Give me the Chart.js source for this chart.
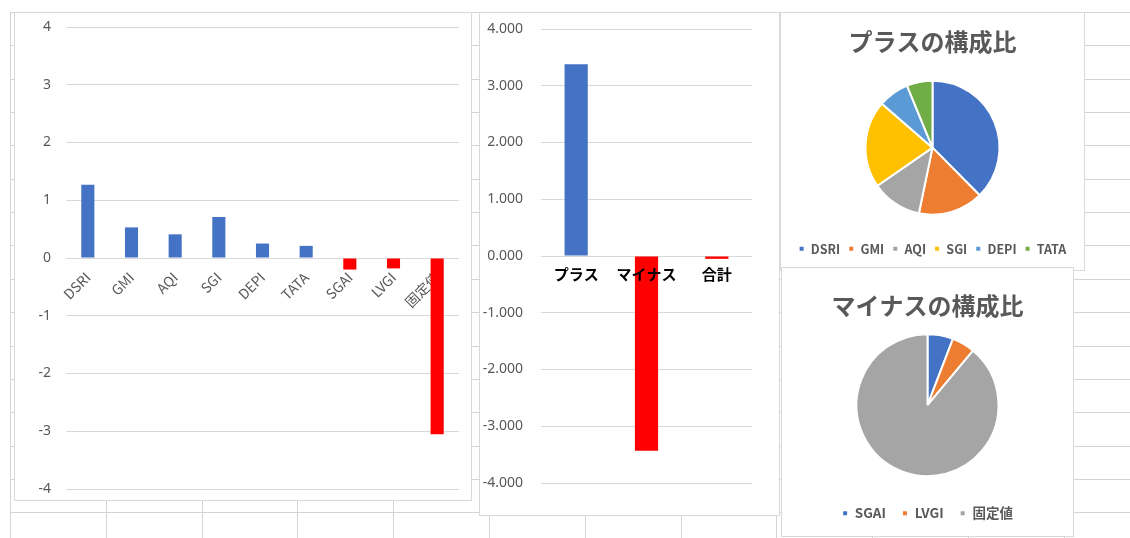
<!DOCTYPE html>
<html><head><meta charset="utf-8">
<script src="https://cdn.jsdelivr.net/npm/chart.js@4.4.0/dist/chart.umd.min.js"></script>
<style>
html,body{margin:0;padding:0;background:#fff;width:1130px;height:538px;overflow:hidden;position:relative;}
.box{position:absolute;background:#fff;border:1px solid #d9d9d9;box-sizing:border-box;}
.box canvas{display:block;}
.gl{position:absolute;background:#d4d4d4;}
</style></head><body>
<div id="grid"></div>
<div class="box" style="left:14px;top:12px;width:458px;height:489px"><canvas id="c1" width="456" height="487"></canvas></div>
<div class="box" style="left:479px;top:12px;width:301px;height:504px"><canvas id="c2" width="299" height="502"></canvas></div>
<div class="box" style="left:780px;top:12px;width:305px;height:259px"><canvas id="c3" width="303" height="257"></canvas></div>
<div class="box" style="left:781px;top:267px;width:293px;height:270px"><canvas id="c4" width="291" height="268"></canvas></div>
<script>
// ---- data ----
const indicatorLabels = ['DSRI','GMI','AQI','SGI','DEPI','TATA','SGAI','LVGI','固定値'];
const indicatorValues = [1.27, 0.53, 0.41, 0.71, 0.25, 0.21, -0.20, -0.18, -3.05];
const summaryLabels = ['プラス','マイナス','合計'];
const summaryValues = [3.38, -3.43, -0.05];
const plusLabels = ['DSRI','GMI','AQI','SGI','DEPI','TATA'];
const plusValues = [1.27, 0.53, 0.41, 0.71, 0.25, 0.21];
const minusLabels = ['SGAI','LVGI','固定値'];
const minusValues = [0.20, 0.18, 3.05];
const plusTitle = 'プラスの構成比';
const minusTitle = 'マイナスの構成比';

// ---- spreadsheet background grid ----
const grid = document.getElementById('grid');
for (let k = 0; k < 16; k++) {
  const y = Math.round(12 + 33.35 * k);
  const d = document.createElement('div'); d.className = 'gl';
  d.style.cssText = `left:10px;top:${y}px;width:1120px;height:1px`;
  grid.appendChild(d);
}
for (let k = 0; k < 12; k++) {
  const x = Math.round(10 + 95.8 * k);
  const d = document.createElement('div'); d.className = 'gl';
  d.style.cssText = `left:${x}px;top:12px;width:1px;height:526px`;
  grid.appendChild(d);
}

const BLUE = '#4472C4', RED = '#FF0000', GRAY = '#595959';
const signColor = ctx => (ctx.raw < 0 ? RED : BLUE);
const jp = 'Noto Sans CJK JP';
const noPad = s => { s.paddingTop = 0; s.paddingBottom = 0; s.paddingLeft = 0; s.paddingRight = 0; };

// ---- chart 1 ----
new Chart(document.getElementById('c1'), {
  type: 'bar',
  data: { labels: indicatorLabels, datasets: [{ data: indicatorValues, backgroundColor: signColor, barPercentage: 0.3, categoryPercentage: 1 }] },
  options: {
    responsive: false, animation: false,
    layout: { padding: { top: 14, right: 12, bottom: 11, left: 0 } },
    plugins: { legend: { display: false }, tooltip: { enabled: false } },
    scales: {
      x: { position: { y: 0 }, grid: { display: false }, border: { display: false },
           ticks: { minRotation: 45, maxRotation: 45, autoSkip: false, color: GRAY, padding: 3, font: { family: jp, size: 14 } },
           afterFit: noPad },
      y: { min: -4, max: 4, grid: { color: '#d9d9d9', drawTicks: false }, border: { display: false },
           ticks: { stepSize: 1, color: GRAY, padding: 15, font: { family: 'Noto Sans', size: 14 } },
           afterFit(s) { s.width = 51; noPad(s); } }
    }
  }
});

// ---- chart 2 ----
new Chart(document.getElementById('c2'), {
  type: 'bar',
  data: { labels: summaryLabels, datasets: [{ data: summaryValues, backgroundColor: signColor, barPercentage: 0.33, categoryPercentage: 1 }] },
  options: {
    responsive: false, animation: false,
    layout: { padding: { top: 16, right: 27, bottom: 32, left: 0 } },
    plugins: { legend: { display: false }, tooltip: { enabled: false } },
    scales: {
      x: { position: { y: 0 }, grid: { display: false }, border: { display: false },
           ticks: { z: 1, color: '#000', padding: 1, font: { family: jp, size: 15, weight: 'bold' } },
           afterFit: noPad },
      y: { min: -4, max: 4, grid: { color: '#d9d9d9', drawTicks: false }, border: { display: false },
           ticks: { stepSize: 1, color: GRAY, padding: 18, font: { family: 'Noto Sans', size: 14 }, callback: v => v.toFixed(3) },
           afterFit(s) { s.width = 61; noPad(s); } }
    }
  }
});

// ---- pies ----
const pieColors = ['#4472C4', '#ED7D31', '#A5A5A5', '#FFC000', '#5B9BD5', '#70AD47'];
function pie(id, labels, values, title, radius, titlePad, bottomPad, legendPad, legendSize) {
  new Chart(document.getElementById(id), {
    type: 'pie',
    data: { labels, datasets: [{ data: values, backgroundColor: pieColors.slice(0, values.length), borderColor: '#fff', borderWidth: 2, radius }] },
    options: {
      responsive: false, animation: false,
      layout: { padding: { bottom: bottomPad } },
      plugins: {
        tooltip: { enabled: false },
        title: { display: true, text: title, color: GRAY, padding: titlePad, font: { family: jp, size: 24, weight: 'bold' } },
        legend: { position: 'bottom', labels: { boxWidth: 6, boxHeight: 6, padding: legendPad, color: GRAY, font: { family: jp, size: legendSize, weight: 'bold' } } }
      }
    }
  });
}
pie('c3', plusLabels, plusValues, plusTitle, 67, { top: 14, bottom: 5 }, 5, 8, 12.5);
pie('c4', minusLabels, minusValues, minusTitle, 71, { top: 23, bottom: 0 }, 6, 16, 13.5);
</script>
</body></html>
